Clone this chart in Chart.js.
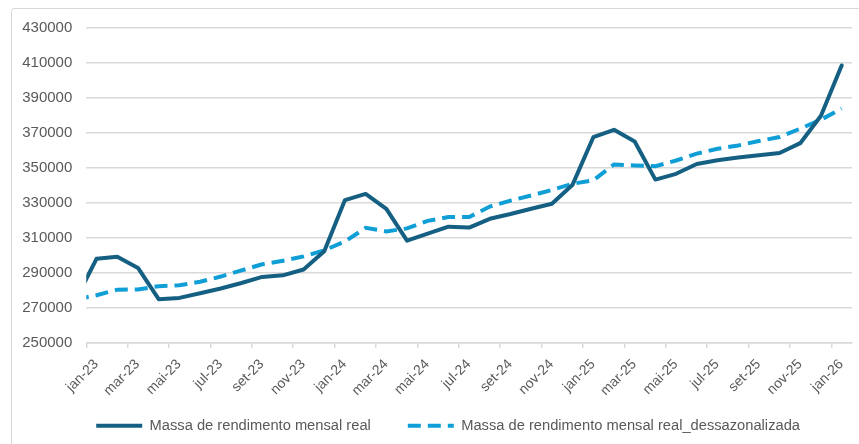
<!DOCTYPE html>
<html>
<head>
<meta charset="utf-8">
<script src="https://cdn.jsdelivr.net/npm/chart.js@4"></script>
<style>
  html, body { margin: 0; padding: 0; background: #fff; overflow: hidden; }
  #wrap { position: relative; width: 859px; height: 444px; }
  #frame { position: absolute; left: 11px; top: 8px; width: 900px; height: 500px; border: 1px solid #d9d9d9; border-radius: 3px; box-sizing: border-box; }
  canvas { position: absolute; left: 0; top: 0; }
</style>
</head>
<body>
<div id="wrap">
  <div id="frame"></div>
  <canvas id="c" width="859" height="444"></canvas>
</div>
<script>
// Monthly categories (first one lies just outside the visible axis and is clipped)
const months = ['dez-22',
  'jan-23','fev-23','mar-23','abr-23','mai-23','jun-23','jul-23','ago-23','set-23','out-23','nov-23','dez-23',
  'jan-24','fev-24','mar-24','abr-24','mai-24','jun-24','jul-24','ago-24','set-24','out-24','nov-24','dez-24',
  'jan-25','fev-25','mar-25','abr-25','mai-25','jun-25','jul-25','ago-25','set-25','out-25','nov-25','dez-25',
  'jan-26'];

const massaReal = [275000,
  298200, 299300, 292900, 275100, 275800, 278500, 281200, 284300, 287800, 288700, 292000, 302500,
  331700, 335200, 326700, 308500, 312500, 316500, 316000, 321000, 323700, 326700, 329600, 340500,
  367600, 371800, 365200, 343400, 346700, 352300, 354400, 356000, 357300, 358600, 364200, 379900,
  408600];

const massaDessaz = [275000,
  277300, 280500, 280600, 282500, 283000, 285000, 288000, 291500, 295000, 297000, 299500, 303000,
  308000, 315800, 313800, 315500, 319800, 322000, 322000, 328000, 331400, 334300, 337500, 341000,
  343000, 352000, 351500, 351000, 354300, 358200, 361000, 362900, 365400, 367700, 372500, 377600,
  384000];

const tickLabels = ['jan-23','mar-23','mai-23','jul-23','set-23','nov-23','jan-24','mar-24','mai-24',
  'jul-24','set-24','nov-24','jan-25','mar-25','mai-25','jul-25','set-25','nov-25','jan-26'];

const yTicks = [250000, 270000, 290000, 310000, 330000, 350000, 370000, 390000, 410000, 430000];

const seriesNames = ['Massa de rendimento mensal real', 'Massa de rendimento mensal real_dessazonalizada'];

// x: category centre of month i (jan-23 occupies [0,1])
const toPoints = arr => arr.map((v, i) => ({ x: i - 0.5, y: v }));

const labelColor = '#595959';
const gridColor = '#d9d9d9';

const LEGEND_PAD_FIT = 11;   // padding used for layout
const LEGEND_GAP = 37;       // gap between legend items when drawn

const legendShift = {
  id: 'legendShift',
  afterLayout(chart) {
    const lg = chart.legend;
    if (!lg) return;
    const d = LEGEND_GAP - LEGEND_PAD_FIT;
    try { lg.options.labels.padding = LEGEND_GAP; } catch (e) {}
    if (lg.options.labels.padding === LEGEND_GAP) { lg.top -= d; }
    lg.left -= 8; lg.right -= 8;
  }
};

new Chart(document.getElementById('c'), {
  type: 'line',
  plugins: [legendShift],
  data: {
    datasets: [
      {
        label: seriesNames[0],
        data: toPoints(massaReal),
        borderColor: '#156082',
        backgroundColor: '#156082',
        borderWidth: 4,
        borderJoinStyle: 'round',
        borderCapStyle: 'round',
        pointRadius: 0,
        tension: 0,
        fill: false
      },
      {
        label: seriesNames[1],
        data: toPoints(massaDessaz),
        borderColor: '#0f9ed5',
        backgroundColor: '#0f9ed5',
        borderWidth: 4,
        borderDash: [13, 7],
        borderCapStyle: 'butt',
        pointRadius: 0,
        tension: 0,
        fill: false
      }
    ]
  },
  options: {
    responsive: false,
    animation: false,
    layout: { padding: { left: 8.2, right: 7, top: 28, bottom: 1 } },
    plugins: {
      tooltip: { enabled: false },
      legend: {
        position: 'bottom',
        labels: {
          usePointStyle: true,
          pointStyle: 'line',
          pointStyleWidth: 46,
          boxHeight: 14,
          padding: LEGEND_PAD_FIT,
          color: labelColor,
          font: { family: "'Liberation Sans', Arial, sans-serif", size: 14.7 },
          generateLabels: chart => chart.data.datasets.map((ds, i) => ({
            text: ds.label,
            fillStyle: ds.borderColor,
            strokeStyle: ds.borderColor,
            lineWidth: ds.borderWidth,
            lineDash: ds.borderDash || [],
            lineCap: 'butt',
            pointStyle: 'line',
            fontColor: labelColor,
            hidden: false,
            datasetIndex: i
          }))
        }
      }
    },
    scales: {
      x: {
        type: 'linear',
        min: 0,
        max: months.length - 1,
        offset: false,
        afterBuildTicks: scale => { scale.ticks = tickLabels.map((l, k) => ({ value: 2 * k })); },
        ticks: {
          autoSkip: false,
          maxRotation: 45,
          minRotation: 45,
          labelOffset: 10,
          padding: 8,
          color: labelColor,
          font: { family: "'Liberation Sans', Arial, sans-serif", size: 14 },
          callback: (v, idx) => tickLabels[idx]
        },
        grid: { display: true, drawOnChartArea: false, drawTicks: true, tickLength: 5, color: gridColor, lineWidth: 1.5 },
        border: { display: true, color: gridColor, width: 1.5 }
      },
      y: {
        min: yTicks[0],
        max: yTicks[yTicks.length - 1],
        afterBuildTicks: scale => { scale.ticks = yTicks.map(v => ({ value: v })); },
        ticks: {
          padding: 14,
          color: labelColor,
          font: { family: "'Liberation Sans', Arial, sans-serif", size: 15 },
          callback: v => String(v)
        },
        grid: { color: gridColor, lineWidth: 1.5, drawTicks: false },
        border: { display: false }
      }
    }
  }
});
</script>
</body>
</html>
